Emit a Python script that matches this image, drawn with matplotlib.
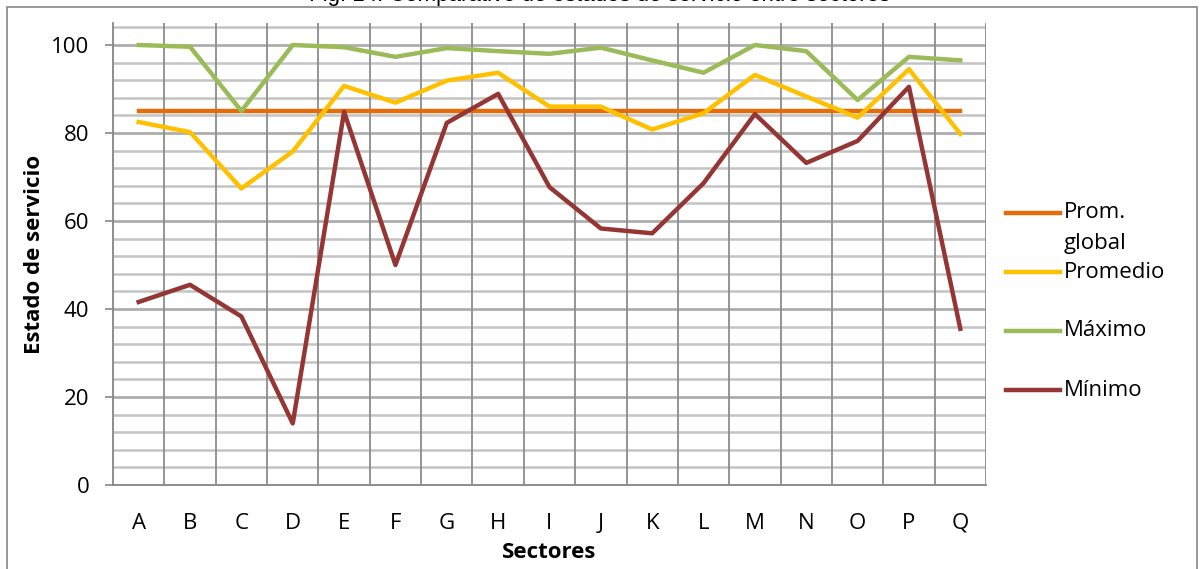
import matplotlib
matplotlib.use("Agg")
import matplotlib.pyplot as plt
from matplotlib.lines import Line2D
from matplotlib.patches import Rectangle

# datos por sector
sectores = ["A", "B", "C", "D", "E", "F", "G", "H", "I", "J", "K", "L", "M", "N", "O", "P", "Q"]
prom_global = 85
promedio = [82.5, 80.2, 67.4, 75.8, 90.7, 86.9, 91.9, 93.7, 86.0, 86.0, 80.8, 84.5, 93.2, 88.3, 83.5, 94.5, 79.8]
maximo = [100, 99.6, 85.0, 100, 99.5, 97.3, 99.3, 98.6, 98.0, 99.4, 96.5, 93.7, 100, 98.6, 87.5, 97.3, 96.5]
minimo = [41.6, 45.5, 38.3, 14.0, 84.8, 50.0, 82.3, 88.9, 67.7, 58.3, 57.2, 68.6, 84.3, 73.2, 78.2, 90.5, 35.5]

colores = {"global": "#E46C0A", "prom": "#FFC000", "max": "#9BBB59", "min": "#943634"}

plt.rcParams['font.family'] = ['Open Sans', 'DejaVu Sans']

W, H = 1201, 569
fig = plt.figure(figsize=(W / 100, H / 100), dpi=100)

# marco exterior del grafico
fig.patches.append(Rectangle((7 / W, -0.05), (1197 - 7) / W, (H - 7) / H + 0.05,
                             transform=fig.transFigure, fill=False,
                             edgecolor="#868686", linewidth=1.2))

ax = fig.add_axes([113 / W, (H - 485) / H, (986 - 113) / W, (485 - 23) / H])
x = list(range(len(sectores)))

ax.set_xlim(-0.5, len(sectores) - 0.5)
ax.set_ylim(0, 105)

# rejilla horizontal cada 4 unidades
for v in range(4, 105, 4):
    ax.axhline(v, color="#C4C4C4", linewidth=1.8, zorder=1)
for v in range(20, 101, 20):
    ax.axhline(v, color="#ADADAD", linewidth=1.8, zorder=1)
# rejilla vertical entre categorias
for b in range(1, len(sectores) + 1):
    ax.axvline(b - 0.5, color="#8C8C8C", linewidth=1.3, zorder=1)

ax.plot(x, [prom_global] * len(x), color=colores["global"], linewidth=3.2, zorder=3)
ax.plot(x, promedio, color=colores["prom"], linewidth=3.2, zorder=4)
ax.plot(x, maximo, color=colores["max"], linewidth=3.2, zorder=3)
ax.plot(x, minimo, color=colores["min"], linewidth=3.2, zorder=5)

for s in ["top", "right"]:
    ax.spines[s].set_visible(False)
ax.spines["left"].set_color("#868686")
ax.spines["bottom"].set_color("#868686")
ax.spines["left"].set_linewidth(1.3)
ax.spines["bottom"].set_linewidth(1.3)

ax.set_yticks(range(0, 101, 20))
ax.set_xticks(x)
ax.set_xticklabels(sectores)
ax.tick_params(axis="y", length=6, width=1.2, color="#868686", pad=11, labelsize=16)
ax.tick_params(axis="x", length=0, pad=20, labelsize=16)

ax.set_xlabel("Sectores", fontsize=16, fontweight="bold", labelpad=3)
ax.set_ylabel("Estado de servicio", fontsize=16, fontweight="bold")
ax.yaxis.set_label_coords(-(113 - 35) / (986 - 113), 0.5)
ax.xaxis.set_label_coords(0.5, -(552 - 485) / (485 - 23))
ax.xaxis.label.set_va("center")
ax.yaxis.label.set_va("center")

fig.text(600 / W, (H - 1) / H, "Fig. 14. Comparativo de estados de servicio entre sectores",
         family="Liberation Sans", fontsize=16, ha="center", va="baseline")

# leyenda
entradas = [("Prom.", colores["global"], 213), ("Promedio", colores["prom"], 272),
            ("Máximo", colores["max"], 331), ("Mínimo", colores["min"], 390)]
for texto, c, yp in entradas:
    fig.add_artist(Line2D([1006 / W, 1060 / W], [(H - yp) / H] * 2, color=c,
                          linewidth=3.2, transform=fig.transFigure))
    fig.text(1064 / W, (H - yp) / H, texto, fontsize=16, va="center", ha="left")
fig.text(1064 / W, (H - 243) / H, "global", fontsize=16, va="center", ha="left")

fig.savefig("out.png", dpi=100)
